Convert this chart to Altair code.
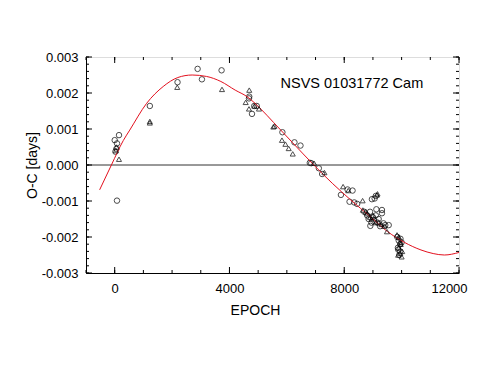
import altair as alt
import pandas as pd

# ---- data ----
circ_epoch = [0, 80, 150, 25, 60, 80, 1225, 2190, 2890, 3040, 3725, 4690, 4680, 4785, 4865, 4950,
              5845, 6265, 6475, 6800, 6850, 7115, 7230, 7885, 8115, 8290, 8185, 8350, 8450,
              8965, 9060, 9100, 9120, 9315, 9315, 9430, 9550, 9370, 8910, 9160,
              8700, 8800, 8850, 8950, 9000, 9050, 9200, 9250, 8900, 9100,
              9850, 9900, 9950, 9880, 9950, 9920, 10000, 9870, 9960]
circ_oc = [0.00069, 0.00060, 0.00083, 0.00037, 0.00045, -0.00099, 0.00164, 0.00230, 0.00267, 0.00238,
           0.00263, 0.00190, 0.00185, 0.00142, 0.00164, 0.00164,
           0.00091, 0.00063, 0.00054, 0.00006, 0.00005, -0.00009, -0.00025, -0.00083, -0.00068, -0.00071,
           -0.00102, -0.00104, -0.00108,
           -0.00095, -0.00093, -0.00086, -0.00123, -0.00125, -0.00134, -0.00167, -0.00167, -0.00162,
           -0.00169, -0.00160,
           -0.00130, -0.00140, -0.00150, -0.00160, -0.00145, -0.00155, -0.00150, -0.00170, -0.00130, -0.00140,
           -0.00200, -0.00210, -0.00220, -0.00235, -0.00240, -0.00250, -0.00215, -0.00230, -0.00205]

tri_epoch = [60, 40, 150, 1225, 1225, 2180, 3740, 4690, 4565, 4680, 4870, 5030, 5565,
             5530, 5830, 5950, 6065, 6205, 6950, 7310, 7960, 8140, 8640, 9140, 9160,
             8650, 8750, 8800, 8900, 8950, 9000, 9100, 9200, 9300, 9490, 9400,
             9840, 9900, 9950, 9900, 9950, 9880, 10000, 9970, 10020]
tri_oc = [0.00050, 0.00040, 0.00016, 0.00121, 0.00117, 0.00216, 0.00210, 0.00208, 0.00174, 0.00156,
          0.00164, 0.00156, 0.00108,
          0.00106, 0.00069, 0.00058, 0.00046, 0.00031, 0.00005, -0.00021, -0.00060, -0.00071, -0.00099,
          -0.00083, -0.00080,
          -0.00125, -0.00130, -0.00135, -0.00145, -0.00150, -0.00140, -0.00160, -0.00160, -0.00165,
          -0.00185, -0.00170,
          -0.00194, -0.00200, -0.00215, -0.00230, -0.00245, -0.00250, -0.00255, -0.00220, -0.00240]

fit_epoch = [-525, -115, 300, 525, 1110, 1690, 2200, 2700, 3200, 3700, 4200, 4610, 5100, 5540,
             6200, 6940, 7600, 8225, 8900, 9510, 10100, 10675, 11100, 11490, 12000]
fit_oc = [-0.00069, 0.0, 0.00068, 0.00097, 0.00171, 0.00218, 0.00243, 0.00250, 0.00246, 0.00232,
          0.00208, 0.00190, 0.00155, 0.00118, 0.00062, 0.0, -0.00052, -0.00097, -0.00143, -0.00185,
          -0.00215, -0.00236, -0.00246, -0.00250, -0.00243]

y_major = [-0.003, -0.002, -0.001, 0.0, 0.001, 0.002, 0.003]
y_minor = [round(-0.003 + 0.0002 * i, 4) for i in range(31)]
x_major = [0, 4000, 8000, 12000]
x_minor = [-1000 + 1000 * i for i in range(14)]

W, H = 373, 216
FONT = "Liberation Sans"

xs = alt.Scale(domain=[-1000, 12000], nice=False, zero=False)
ys = alt.Scale(domain=[-0.003, 0.003], nice=False, zero=False)

df_c = pd.DataFrame({"epoch": circ_epoch, "oc": circ_oc})
df_t = pd.DataFrame({"epoch": tri_epoch, "oc": tri_oc})
df_f = pd.DataFrame({"epoch": fit_epoch, "oc": fit_oc})

xaxis = alt.Axis(values=x_major, title="EPOCH", tickSize=0, labelPadding=9, titlePadding=8,
                 format="d",
                 labelOffset={"condition": {"test": "datum.value == 12000", "value": -10}, "value": 0},
                 labelFontSize=13, titleFontSize=14, labelFont=FONT, titleFont=FONT,
                 titleFontWeight="normal", labelColor="black", titleColor="black",
                 domainColor="black", grid=False, titleX=169, labelFlush=False)
yaxis = alt.Axis(values=y_major, title="O-C [days]", tickSize=0, labelPadding=8,
                 labelExpr="replace(format(datum.value, '.3f'), '\u2212', '-')",
                 labelFontSize=13, titleFontSize=14, labelFont=FONT, titleFont=FONT,
                 titleFontWeight="normal", labelColor="black", titleColor="black",
                 domainColor="black", grid=False, titleX=-54, titleY=108,
                 titleAlign="center", titleBaseline="middle", titleAngle=270, labelFlush=False)

X = lambda: alt.X("epoch:Q", scale=xs, axis=xaxis)
Y = lambda: alt.Y("oc:Q", scale=ys, axis=yaxis)

zero = alt.Chart(pd.DataFrame({"oc": [0.0]})).mark_rule(color="#333333", strokeWidth=1).encode(y=Y())

circles = alt.Chart(df_c).mark_point(shape="circle", filled=False, color="black",
                                     size=30, strokeWidth=1).encode(x=X(), y=Y())

tris = alt.Chart(df_t).mark_point(shape="triangle-up", filled=False, color="black",
                                  size=26, strokeWidth=1).encode(x=X(), y=Y())

fit = alt.Chart(df_f).mark_line(color="#e3101e", strokeWidth=1, interpolate="monotone").encode(
    x=X(), y=Y())

def yticks(vals, length):
    d = pd.DataFrame({"oc": vals})
    left = alt.Chart(d).mark_rule(color="black", strokeWidth=1).encode(
        y=Y(), x=alt.value(0), x2=alt.value(length))
    right = alt.Chart(d).mark_rule(color="black", strokeWidth=1).encode(
        y=Y(), x=alt.value(W), x2=alt.value(W - length))
    return [left, right]

def xticks(vals, length):
    d = pd.DataFrame({"epoch": vals})
    bottom = alt.Chart(d).mark_rule(color="black", strokeWidth=1).encode(
        x=X(), y=alt.value(H), y2=alt.value(H - length))
    top = alt.Chart(d).mark_rule(color="black", strokeWidth=1).encode(
        x=X(), y=alt.value(0), y2=alt.value(length))
    return [bottom, top]

label = alt.Chart(pd.DataFrame({"epoch": [5780], "oc": [0.00225], "t": ["NSVS 01031772 Cam"]})).mark_text(
    align="left", baseline="middle", fontSize=14.5, font=FONT, color="black").encode(
    x=X(), y=Y(), text="t:N")

layers = ([circles, zero] + yticks(y_major, 6) + yticks(y_minor, 3) + xticks(x_major, 6)
          + xticks(x_minor, 3) + [fit, tris, label])

chart = alt.layer(*layers).properties(
    width=W, height=H,
    autosize=alt.AutoSizeParams(type="none"),
    padding={"left": 78, "top": 49, "right": 11, "bottom": 84},
).configure_view(stroke="black", strokeWidth=1).configure(background="white")

chart.save("out.html", embed_options={"renderer": "svg", "actions": False})
